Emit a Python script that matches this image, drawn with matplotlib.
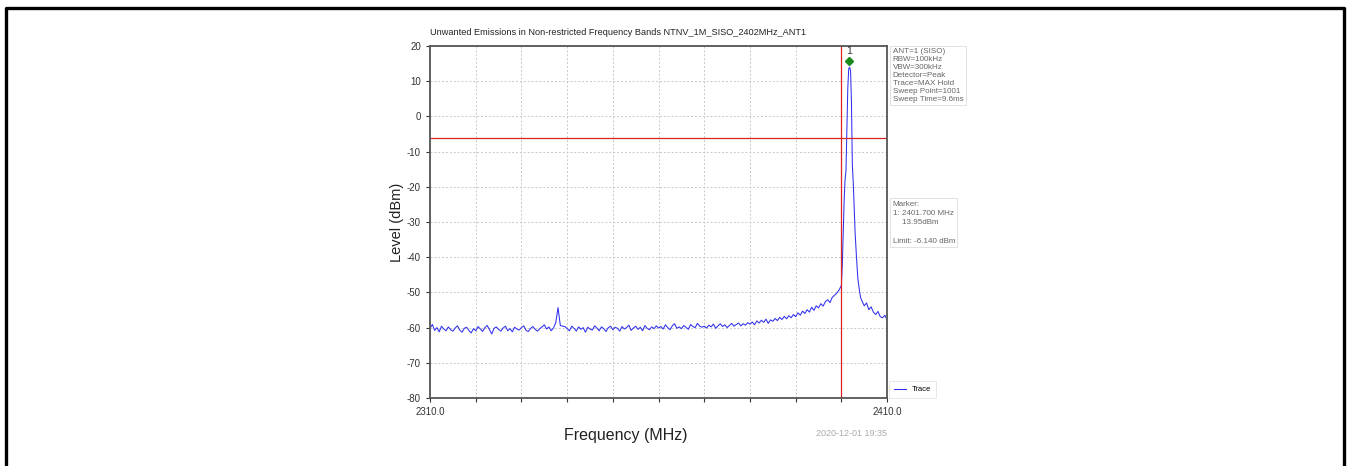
import numpy as np
import matplotlib
matplotlib.use("Agg")
import matplotlib.pyplot as plt
from matplotlib.lines import Line2D

plt.rcParams['font.family'] = ['Liberation Sans', 'DejaVu Sans']
plt.rcParams['axes.unicode_minus'] = False

# trace: flat part 2310.0 .. 2399.5 (0.5 MHz step), one row = 10 MHz
level_low = [
    -60.2, -59.1, -60.8, -60.0, -61.2, -59.6, -60.4, -60.9, -59.8, -60.6, -61.0, -60.1, -59.5, -60.7, -61.3, -60.2, -59.9, -60.8, -61.5, -60.3,
    -60.9, -59.7, -60.4, -61.1, -60.0, -59.4, -60.6, -61.8, -60.2, -59.8, -60.5, -61.0, -60.1, -59.6, -60.9, -60.3, -61.2, -59.9, -60.4, -60.7,
    -60.0, -59.5, -60.8, -61.1, -60.2, -59.7, -60.5, -61.0, -60.3, -59.8, -59.2, -60.4, -59.8, -60.9, -60.1, -58.6, -54.3, -59.4, -59.6, -59.7,
    -60.3, -60.9, -59.6, -60.2, -61.0, -59.8, -60.5, -60.0, -61.3, -59.9, -60.4, -60.7, -59.5, -60.1, -60.9, -59.8, -60.3, -61.1, -60.0, -59.6,
    -60.6, -59.9, -60.2, -61.0, -59.7, -60.4, -60.0, -59.3, -60.8, -60.1, -59.6, -60.5, -59.9, -60.9, -59.4, -60.2, -60.6, -59.8, -60.3, -59.5,
    -60.1, -59.7, -60.4, -59.2, -60.0, -60.6, -59.5, -58.9, -60.2, -59.8, -60.3, -59.4, -59.9, -60.5, -59.1, -59.7, -60.0, -58.8, -59.6, -59.9,
    -59.6, -60.1, -59.3, -59.8, -59.0, -60.2, -59.5, -58.9, -59.7, -59.2, -60.0, -59.4, -58.8, -59.6, -59.1, -58.7, -59.5, -58.9, -59.3, -58.6,
    -59.0, -58.4, -59.2, -58.1, -58.7, -57.9, -58.5, -57.6, -58.8, -57.8, -58.2, -57.4, -58.0, -57.1, -57.7, -56.8, -57.5, -56.6, -57.2, -56.3,
    -56.9, -55.8, -56.5, -55.3, -56.0, -54.9, -55.6, -54.2, -55.1, -53.8, -54.4, -53.2, -53.9, -52.6, -52.1, -52.9, -51.4, -50.8, -50.2, -49.3,
]
freq_low = np.arange(2310.0, 2400.0, 0.5)

# carrier peak
freq_peak = [2400.0, 2400.2, 2400.4, 2400.6, 2400.8, 2401.0, 2401.2, 2401.4, 2401.6, 2401.8,
             2402.0, 2402.2, 2402.4, 2402.6, 2402.8, 2403.0, 2403.3, 2403.6, 2403.9, 2404.2]
level_peak = [-48.0, -42.0, -33.0, -24.0, -18.0, -15.5, -3.0, 8.0, 13.5, 14.0,
              13.0, 4.0, -14.0, -19.0, -26.0, -33.0, -40.0, -46.0, -49.0, -51.5]

# tail 2404.5 .. 2410.0
freq_high = np.arange(2404.5, 2410.01, 0.5)
level_high = [-52.4, -53.8, -53.0, -54.9, -54.1, -55.6, -56.3, -55.4, -56.9, -57.2, -56.5, -57.8]

freq = np.concatenate([freq_low, freq_peak, freq_high])
level = np.concatenate([level_low, level_peak, level_high])

marker_f = 2401.7
marker_lvl = 15.6
limit = -6.14
band_edge = 2400.0

title = "Unwanted Emissions in Non-restricted Frequency Bands NTNV_1M_SISO_2402MHz_ANT1"
info = "ANT=1 (SISO)\nRBW=100kHz\nVBW=300kHz\nDetector=Peak\nTrace=MAX Hold\nSweep Point=1001\nSweep Time=9.6ms"
marker_txt = "Marker:\n1: 2401.700 MHz\n    13.95dBm\n\nLimit: -6.140 dBm"
stamp = "2020-12-01 19:35"

fig = plt.figure(figsize=(13.49, 4.66), dpi=100)
ax = fig.add_axes([0.3188, 0.1459, 0.3388, 0.7554])

ax.plot(freq, level, color='#3030ee', lw=0.75, label='Trace')
ax.axhline(limit, color='#dd2222', lw=0.9)
ax.axvline(band_edge, color='#dd2222', lw=0.9)
ax.plot([marker_f], [marker_lvl], marker='D', color='#1a8a1a', ms=4.5)
ax.text(marker_f, marker_lvl + 1.6, '1', ha='center', va='bottom', fontsize=7.5, color='#333333')

ax.set_xlim(2310, 2410)
ax.set_ylim(-80, 20)
ax.set_xticks(np.arange(2310, 2411, 10))
ax.set_xticklabels(['2310.0'] + [''] * 9 + ['2410.0'])
ax.set_yticks(np.arange(-80, 21, 10))
ax.grid(True, ls=(0, (2, 2)), color='#c8c8c8', lw=0.7)
ax.tick_params(labelsize=7, colors='#333333', length=3)
for s in ax.spines.values():
    s.set_color('#555555')
    s.set_linewidth(1.3)

ax.set_title(title, fontsize=6.6, color='#222222', pad=8, loc='left')
ax.set_xlabel('Frequency (MHz)', fontsize=11.5, color='#222222')
ax.xaxis.set_label_coords(0.429, -0.085)
ax.set_ylabel('Level (dBm)', fontsize=10.5, color='#222222', labelpad=2)

ax.text(1.012, 0.993, info, transform=ax.transAxes, fontsize=5.8, color='#666666',
        va='top', ha='left', linespacing=1.18,
        bbox=dict(boxstyle='square,pad=0.3', fc='white', ec='#dddddd', lw=0.6))
ax.text(1.012, 0.56, marker_txt, transform=ax.transAxes, fontsize=5.8, color='#666666',
        va='top', ha='left', linespacing=1.45,
        bbox=dict(boxstyle='square,pad=0.3', fc='white', ec='#dddddd', lw=0.6))

leg = ax.legend(loc='lower left', bbox_to_anchor=(1.0, -0.005), fontsize=5.5, frameon=True,
                handlelength=1.6, borderpad=0.35, handletextpad=0.8)
leg.get_frame().set_edgecolor('#dddddd')
leg.get_frame().set_linewidth(0.6)
leg.get_frame().set_boxstyle('square')

fig.text(0.6575, 0.065, stamp, ha='right', fontsize=6.5, color='#aaaaaa')

# outer frame (open at the bottom)
fig.add_artist(Line2D([0.0048, 0.0048, 0.9963, 0.9963], [0.0, 0.9828, 0.9828, 0.0],
                      transform=fig.transFigure, color='black', lw=2.4))

fig.savefig('out.png', dpi=100)
